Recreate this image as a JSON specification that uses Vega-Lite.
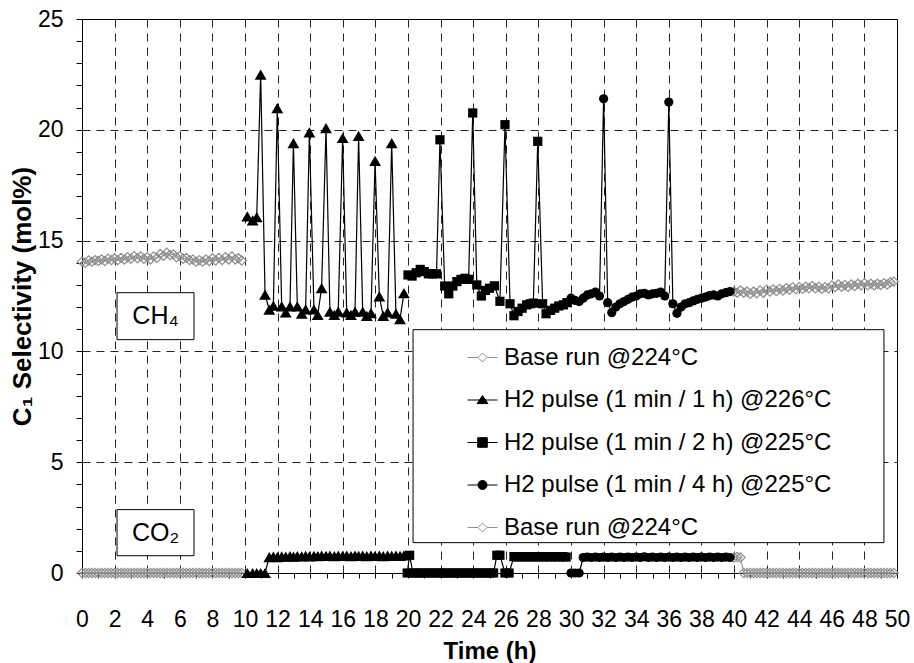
{
 "$schema": "https://vega.github.io/schema/vega-lite/v6.json",
 "width": 815, "height": 554,
 "autosize": {"type": "none"},
 "padding": {"left": 82, "top": 19, "right": 17, "bottom": 90},
 "background": "white",
 "config": {"view": {"stroke": "black", "strokeWidth": 1}, "font": "Liberation Sans"},
 "datasets": {
  "pts": [
{"t":0,"v":14.05,"s":"b1","g":"CH4"},{"t":0.2,"v":14.0,"s":"b1","g":"CH4"},{"t":0.4,"v":14.1,"s":"b1","g":"CH4"},{"t":0.6,"v":14.05,"s":"b1","g":"CH4"},{"t":0.8,"v":14.12,"s":"b1","g":"CH4"},{"t":1,"v":14.08,"s":"b1","g":"CH4"},{"t":1.2,"v":14.15,"s":"b1","g":"CH4"},{"t":1.4,"v":14.08,"s":"b1","g":"CH4"},{"t":1.6,"v":14.18,"s":"b1","g":"CH4"},{"t":1.8,"v":14.12,"s":"b1","g":"CH4"},
{"t":2,"v":14.2,"s":"b1","g":"CH4"},{"t":2.2,"v":14.12,"s":"b1","g":"CH4"},{"t":2.4,"v":14.22,"s":"b1","g":"CH4"},{"t":2.6,"v":14.15,"s":"b1","g":"CH4"},{"t":2.8,"v":14.25,"s":"b1","g":"CH4"},{"t":3,"v":14.18,"s":"b1","g":"CH4"},{"t":3.2,"v":14.3,"s":"b1","g":"CH4"},{"t":3.4,"v":14.2,"s":"b1","g":"CH4"},{"t":3.6,"v":14.28,"s":"b1","g":"CH4"},{"t":3.8,"v":14.18,"s":"b1","g":"CH4"},
{"t":4,"v":14.25,"s":"b1","g":"CH4"},{"t":4.2,"v":14.15,"s":"b1","g":"CH4"},{"t":4.4,"v":14.28,"s":"b1","g":"CH4"},{"t":4.6,"v":14.22,"s":"b1","g":"CH4"},{"t":4.8,"v":14.4,"s":"b1","g":"CH4"},{"t":5,"v":14.32,"s":"b1","g":"CH4"},{"t":5.2,"v":14.45,"s":"b1","g":"CH4"},{"t":5.4,"v":14.35,"s":"b1","g":"CH4"},{"t":5.6,"v":14.38,"s":"b1","g":"CH4"},{"t":5.8,"v":14.25,"s":"b1","g":"CH4"},
{"t":6,"v":14.3,"s":"b1","g":"CH4"},{"t":6.2,"v":14.18,"s":"b1","g":"CH4"},{"t":6.4,"v":14.22,"s":"b1","g":"CH4"},{"t":6.6,"v":14.12,"s":"b1","g":"CH4"},{"t":6.8,"v":14.15,"s":"b1","g":"CH4"},{"t":7,"v":14.05,"s":"b1","g":"CH4"},{"t":7.2,"v":14.12,"s":"b1","g":"CH4"},{"t":7.4,"v":14.05,"s":"b1","g":"CH4"},{"t":7.6,"v":14.15,"s":"b1","g":"CH4"},{"t":7.8,"v":14.08,"s":"b1","g":"CH4"},
{"t":8,"v":14.2,"s":"b1","g":"CH4"},{"t":8.2,"v":14.1,"s":"b1","g":"CH4"},{"t":8.4,"v":14.22,"s":"b1","g":"CH4"},{"t":8.6,"v":14.12,"s":"b1","g":"CH4"},{"t":8.8,"v":14.25,"s":"b1","g":"CH4"},{"t":9,"v":14.15,"s":"b1","g":"CH4"},{"t":9.2,"v":14.28,"s":"b1","g":"CH4"},{"t":9.4,"v":14.15,"s":"b1","g":"CH4"},{"t":9.6,"v":14.2,"s":"b1","g":"CH4"},{"t":9.8,"v":14.1,"s":"b1","g":"CH4"},
{"t":0,"v":0,"s":"b1","g":"CO2"},{"t":0.2,"v":0,"s":"b1","g":"CO2"},{"t":0.4,"v":0,"s":"b1","g":"CO2"},{"t":0.6,"v":0,"s":"b1","g":"CO2"},{"t":0.8,"v":0,"s":"b1","g":"CO2"},{"t":1,"v":0,"s":"b1","g":"CO2"},{"t":1.2,"v":0,"s":"b1","g":"CO2"},{"t":1.4,"v":0,"s":"b1","g":"CO2"},{"t":1.6,"v":0,"s":"b1","g":"CO2"},{"t":1.8,"v":0,"s":"b1","g":"CO2"},
{"t":2,"v":0,"s":"b1","g":"CO2"},{"t":2.2,"v":0,"s":"b1","g":"CO2"},{"t":2.4,"v":0,"s":"b1","g":"CO2"},{"t":2.6,"v":0,"s":"b1","g":"CO2"},{"t":2.8,"v":0,"s":"b1","g":"CO2"},{"t":3,"v":0,"s":"b1","g":"CO2"},{"t":3.2,"v":0,"s":"b1","g":"CO2"},{"t":3.4,"v":0,"s":"b1","g":"CO2"},{"t":3.6,"v":0,"s":"b1","g":"CO2"},{"t":3.8,"v":0,"s":"b1","g":"CO2"},
{"t":4,"v":0,"s":"b1","g":"CO2"},{"t":4.2,"v":0,"s":"b1","g":"CO2"},{"t":4.4,"v":0,"s":"b1","g":"CO2"},{"t":4.6,"v":0,"s":"b1","g":"CO2"},{"t":4.8,"v":0,"s":"b1","g":"CO2"},{"t":5,"v":0,"s":"b1","g":"CO2"},{"t":5.2,"v":0,"s":"b1","g":"CO2"},{"t":5.4,"v":0,"s":"b1","g":"CO2"},{"t":5.6,"v":0,"s":"b1","g":"CO2"},{"t":5.8,"v":0,"s":"b1","g":"CO2"},
{"t":6,"v":0,"s":"b1","g":"CO2"},{"t":6.2,"v":0,"s":"b1","g":"CO2"},{"t":6.4,"v":0,"s":"b1","g":"CO2"},{"t":6.6,"v":0,"s":"b1","g":"CO2"},{"t":6.8,"v":0,"s":"b1","g":"CO2"},{"t":7,"v":0,"s":"b1","g":"CO2"},{"t":7.2,"v":0,"s":"b1","g":"CO2"},{"t":7.4,"v":0,"s":"b1","g":"CO2"},{"t":7.6,"v":0,"s":"b1","g":"CO2"},{"t":7.8,"v":0,"s":"b1","g":"CO2"},
{"t":8,"v":0,"s":"b1","g":"CO2"},{"t":8.2,"v":0,"s":"b1","g":"CO2"},{"t":8.4,"v":0,"s":"b1","g":"CO2"},{"t":8.6,"v":0,"s":"b1","g":"CO2"},{"t":8.8,"v":0,"s":"b1","g":"CO2"},{"t":9,"v":0,"s":"b1","g":"CO2"},{"t":9.2,"v":0,"s":"b1","g":"CO2"},{"t":9.4,"v":0,"s":"b1","g":"CO2"},{"t":9.6,"v":0,"s":"b1","g":"CO2"},{"t":9.8,"v":0,"s":"b1","g":"CO2"},
{"t":10.14,"v":16.09,"s":"p1","g":"CH4"},{"t":10.47,"v":15.91,"s":"p1","g":"CH4"},{"t":10.72,"v":16.06,"s":"p1","g":"CH4"},{"t":10.96,"v":22.49,"s":"p1","g":"CH4"},{"t":11.23,"v":12.56,"s":"p1","g":"CH4"},{"t":11.49,"v":11.88,"s":"p1","g":"CH4"},{"t":11.74,"v":12.06,"s":"p1","g":"CH4"},{"t":11.98,"v":20.98,"s":"p1","g":"CH4"},
{"t":12.25,"v":12.03,"s":"p1","g":"CH4"},{"t":12.5,"v":11.76,"s":"p1","g":"CH4"},{"t":12.76,"v":12.03,"s":"p1","g":"CH4"},{"t":12.97,"v":19.4,"s":"p1","g":"CH4"},{"t":13.21,"v":12.03,"s":"p1","g":"CH4"},{"t":13.48,"v":11.7,"s":"p1","g":"CH4"},{"t":13.72,"v":11.9,"s":"p1","g":"CH4"},{"t":13.95,"v":19.88,"s":"p1","g":"CH4"},
{"t":14.23,"v":11.9,"s":"p1","g":"CH4"},{"t":14.46,"v":11.65,"s":"p1","g":"CH4"},{"t":14.7,"v":12.86,"s":"p1","g":"CH4"},{"t":14.97,"v":20.08,"s":"p1","g":"CH4"},{"t":15.21,"v":11.8,"s":"p1","g":"CH4"},{"t":15.48,"v":11.65,"s":"p1","g":"CH4"},{"t":15.72,"v":11.8,"s":"p1","g":"CH4"},{"t":15.99,"v":19.63,"s":"p1","g":"CH4"},
{"t":16.24,"v":11.76,"s":"p1","g":"CH4"},{"t":16.5,"v":11.65,"s":"p1","g":"CH4"},{"t":16.75,"v":11.8,"s":"p1","g":"CH4"},{"t":16.97,"v":19.73,"s":"p1","g":"CH4"},{"t":17.22,"v":11.8,"s":"p1","g":"CH4"},{"t":17.47,"v":11.6,"s":"p1","g":"CH4"},{"t":17.73,"v":11.73,"s":"p1","g":"CH4"},{"t":17.98,"v":18.6,"s":"p1","g":"CH4"},
{"t":18.24,"v":12.48,"s":"p1","g":"CH4"},{"t":18.48,"v":11.6,"s":"p1","g":"CH4"},{"t":18.75,"v":11.76,"s":"p1","g":"CH4"},{"t":19.0,"v":19.4,"s":"p1","g":"CH4"},{"t":19.26,"v":11.7,"s":"p1","g":"CH4"},{"t":19.51,"v":11.46,"s":"p1","g":"CH4"},{"t":19.75,"v":12.63,"s":"p1","g":"CH4"},
{"t":10.14,"v":0,"s":"p1","g":"CO2"},{"t":10.47,"v":0,"s":"p1","g":"CO2"},{"t":10.72,"v":0,"s":"p1","g":"CO2"},{"t":10.96,"v":0,"s":"p1","g":"CO2"},{"t":11.23,"v":0,"s":"p1","g":"CO2"},{"t":11.49,"v":0.72,"s":"p1","g":"CO2"},{"t":11.74,"v":0.74,"s":"p1","g":"CO2"},{"t":11.98,"v":0.72,"s":"p1","g":"CO2"},
{"t":12.25,"v":0.75,"s":"p1","g":"CO2"},{"t":12.5,"v":0.74,"s":"p1","g":"CO2"},{"t":12.76,"v":0.76,"s":"p1","g":"CO2"},{"t":12.97,"v":0.74,"s":"p1","g":"CO2"},{"t":13.21,"v":0.76,"s":"p1","g":"CO2"},{"t":13.48,"v":0.75,"s":"p1","g":"CO2"},{"t":13.72,"v":0.77,"s":"p1","g":"CO2"},{"t":13.95,"v":0.75,"s":"p1","g":"CO2"},
{"t":14.23,"v":0.77,"s":"p1","g":"CO2"},{"t":14.46,"v":0.76,"s":"p1","g":"CO2"},{"t":14.7,"v":0.78,"s":"p1","g":"CO2"},{"t":14.97,"v":0.77,"s":"p1","g":"CO2"},{"t":15.21,"v":0.78,"s":"p1","g":"CO2"},{"t":15.48,"v":0.76,"s":"p1","g":"CO2"},{"t":15.72,"v":0.78,"s":"p1","g":"CO2"},{"t":15.99,"v":0.77,"s":"p1","g":"CO2"},
{"t":16.24,"v":0.78,"s":"p1","g":"CO2"},{"t":16.5,"v":0.76,"s":"p1","g":"CO2"},{"t":16.75,"v":0.78,"s":"p1","g":"CO2"},{"t":16.97,"v":0.77,"s":"p1","g":"CO2"},{"t":17.22,"v":0.78,"s":"p1","g":"CO2"},{"t":17.47,"v":0.76,"s":"p1","g":"CO2"},{"t":17.73,"v":0.78,"s":"p1","g":"CO2"},{"t":17.98,"v":0.77,"s":"p1","g":"CO2"},
{"t":18.24,"v":0.78,"s":"p1","g":"CO2"},{"t":18.48,"v":0.76,"s":"p1","g":"CO2"},{"t":18.75,"v":0.78,"s":"p1","g":"CO2"},{"t":19.0,"v":0.77,"s":"p1","g":"CO2"},{"t":19.26,"v":0.78,"s":"p1","g":"CO2"},{"t":19.51,"v":0.77,"s":"p1","g":"CO2"},{"t":19.75,"v":0.79,"s":"p1","g":"CO2"},
{"t":20.0,"v":13.45,"s":"p2","g":"CH4"},{"t":20.25,"v":13.4,"s":"p2","g":"CH4"},{"t":20.5,"v":13.55,"s":"p2","g":"CH4"},{"t":20.75,"v":13.7,"s":"p2","g":"CH4"},{"t":21.0,"v":13.6,"s":"p2","g":"CH4"},{"t":21.25,"v":13.5,"s":"p2","g":"CH4"},{"t":21.5,"v":13.5,"s":"p2","g":"CH4"},{"t":21.75,"v":13.5,"s":"p2","g":"CH4"},
{"t":21.96,"v":19.55,"s":"p2","g":"CH4"},{"t":22.25,"v":12.95,"s":"p2","g":"CH4"},{"t":22.5,"v":12.6,"s":"p2","g":"CH4"},{"t":22.75,"v":12.95,"s":"p2","g":"CH4"},{"t":23.0,"v":13.15,"s":"p2","g":"CH4"},{"t":23.25,"v":13.25,"s":"p2","g":"CH4"},{"t":23.5,"v":13.3,"s":"p2","g":"CH4"},{"t":23.72,"v":13.25,"s":"p2","g":"CH4"},
{"t":23.97,"v":20.76,"s":"p2","g":"CH4"},{"t":24.22,"v":13.0,"s":"p2","g":"CH4"},{"t":24.5,"v":12.5,"s":"p2","g":"CH4"},{"t":24.75,"v":12.75,"s":"p2","g":"CH4"},{"t":25.0,"v":12.85,"s":"p2","g":"CH4"},{"t":25.3,"v":12.96,"s":"p2","g":"CH4"},{"t":25.64,"v":12.26,"s":"p2","g":"CH4"},{"t":25.95,"v":20.23,"s":"p2","g":"CH4"},
{"t":26.26,"v":12.15,"s":"p2","g":"CH4"},{"t":26.5,"v":11.61,"s":"p2","g":"CH4"},{"t":26.75,"v":11.8,"s":"p2","g":"CH4"},{"t":27.0,"v":11.95,"s":"p2","g":"CH4"},{"t":27.28,"v":12.1,"s":"p2","g":"CH4"},{"t":27.5,"v":12.15,"s":"p2","g":"CH4"},{"t":27.69,"v":12.18,"s":"p2","g":"CH4"},{"t":27.96,"v":19.48,"s":"p2","g":"CH4"},
{"t":28.26,"v":12.15,"s":"p2","g":"CH4"},{"t":28.47,"v":11.7,"s":"p2","g":"CH4"},{"t":28.75,"v":11.85,"s":"p2","g":"CH4"},{"t":29.0,"v":11.95,"s":"p2","g":"CH4"},{"t":29.25,"v":12.05,"s":"p2","g":"CH4"},{"t":29.53,"v":12.1,"s":"p2","g":"CH4"},{"t":29.75,"v":12.2,"s":"p2","g":"CH4"},
{"t":19.95,"v":0,"s":"p2","g":"CO2"},{"t":20.1,"v":0.8,"s":"p2","g":"CO2"},{"t":20.3,"v":0,"s":"p2","g":"CO2"},{"t":20.5,"v":0,"s":"p2","g":"CO2"},{"t":20.75,"v":0,"s":"p2","g":"CO2"},{"t":21.0,"v":0,"s":"p2","g":"CO2"},{"t":21.25,"v":0,"s":"p2","g":"CO2"},{"t":21.5,"v":0,"s":"p2","g":"CO2"},{"t":21.75,"v":0,"s":"p2","g":"CO2"},
{"t":22.0,"v":0,"s":"p2","g":"CO2"},{"t":22.25,"v":0,"s":"p2","g":"CO2"},{"t":22.5,"v":0,"s":"p2","g":"CO2"},{"t":22.75,"v":0,"s":"p2","g":"CO2"},{"t":23.0,"v":0,"s":"p2","g":"CO2"},{"t":23.25,"v":0,"s":"p2","g":"CO2"},{"t":23.5,"v":0,"s":"p2","g":"CO2"},{"t":23.75,"v":0,"s":"p2","g":"CO2"},
{"t":24.0,"v":0,"s":"p2","g":"CO2"},{"t":24.25,"v":0,"s":"p2","g":"CO2"},{"t":24.5,"v":0,"s":"p2","g":"CO2"},{"t":24.75,"v":0,"s":"p2","g":"CO2"},{"t":25.0,"v":0,"s":"p2","g":"CO2"},{"t":25.25,"v":0,"s":"p2","g":"CO2"},{"t":25.45,"v":0.8,"s":"p2","g":"CO2"},{"t":25.64,"v":0.8,"s":"p2","g":"CO2"},{"t":25.95,"v":0,"s":"p2","g":"CO2"},{"t":26.2,"v":0,"s":"p2","g":"CO2"},
{"t":26.5,"v":0.74,"s":"p2","g":"CO2"},{"t":26.75,"v":0.72,"s":"p2","g":"CO2"},{"t":27.0,"v":0.74,"s":"p2","g":"CO2"},{"t":27.25,"v":0.72,"s":"p2","g":"CO2"},{"t":27.5,"v":0.74,"s":"p2","g":"CO2"},{"t":27.75,"v":0.72,"s":"p2","g":"CO2"},{"t":28.0,"v":0.74,"s":"p2","g":"CO2"},{"t":28.25,"v":0.72,"s":"p2","g":"CO2"},
{"t":28.5,"v":0.74,"s":"p2","g":"CO2"},{"t":28.75,"v":0.72,"s":"p2","g":"CO2"},{"t":29.0,"v":0.74,"s":"p2","g":"CO2"},{"t":29.25,"v":0.72,"s":"p2","g":"CO2"},{"t":29.5,"v":0.74,"s":"p2","g":"CO2"},{"t":29.7,"v":0.72,"s":"p2","g":"CO2"},
{"t":30.0,"v":12.4,"s":"p4","g":"CH4"},{"t":30.25,"v":12.3,"s":"p4","g":"CH4"},{"t":30.5,"v":12.25,"s":"p4","g":"CH4"},{"t":30.75,"v":12.4,"s":"p4","g":"CH4"},{"t":31.0,"v":12.55,"s":"p4","g":"CH4"},{"t":31.25,"v":12.6,"s":"p4","g":"CH4"},{"t":31.5,"v":12.68,"s":"p4","g":"CH4"},{"t":31.75,"v":12.5,"s":"p4","g":"CH4"},
{"t":32.0,"v":21.4,"s":"p4","g":"CH4"},{"t":32.25,"v":12.2,"s":"p4","g":"CH4"},{"t":32.5,"v":11.75,"s":"p4","g":"CH4"},{"t":32.75,"v":12.0,"s":"p4","g":"CH4"},{"t":33.0,"v":12.15,"s":"p4","g":"CH4"},{"t":33.25,"v":12.25,"s":"p4","g":"CH4"},{"t":33.5,"v":12.35,"s":"p4","g":"CH4"},{"t":33.75,"v":12.45,"s":"p4","g":"CH4"},
{"t":34.0,"v":12.5,"s":"p4","g":"CH4"},{"t":34.25,"v":12.6,"s":"p4","g":"CH4"},{"t":34.5,"v":12.62,"s":"p4","g":"CH4"},{"t":34.75,"v":12.55,"s":"p4","g":"CH4"},{"t":35.0,"v":12.6,"s":"p4","g":"CH4"},{"t":35.25,"v":12.62,"s":"p4","g":"CH4"},{"t":35.5,"v":12.68,"s":"p4","g":"CH4"},{"t":35.75,"v":12.5,"s":"p4","g":"CH4"},
{"t":36.0,"v":21.25,"s":"p4","g":"CH4"},{"t":36.25,"v":12.15,"s":"p4","g":"CH4"},{"t":36.5,"v":11.72,"s":"p4","g":"CH4"},{"t":36.75,"v":12.0,"s":"p4","g":"CH4"},{"t":37.0,"v":12.15,"s":"p4","g":"CH4"},{"t":37.25,"v":12.2,"s":"p4","g":"CH4"},{"t":37.5,"v":12.28,"s":"p4","g":"CH4"},{"t":37.75,"v":12.35,"s":"p4","g":"CH4"},
{"t":38.0,"v":12.4,"s":"p4","g":"CH4"},{"t":38.25,"v":12.45,"s":"p4","g":"CH4"},{"t":38.5,"v":12.52,"s":"p4","g":"CH4"},{"t":38.75,"v":12.55,"s":"p4","g":"CH4"},{"t":39.0,"v":12.5,"s":"p4","g":"CH4"},{"t":39.25,"v":12.6,"s":"p4","g":"CH4"},{"t":39.5,"v":12.65,"s":"p4","g":"CH4"},{"t":39.75,"v":12.7,"s":"p4","g":"CH4"},
{"t":30.0,"v":0,"s":"p4","g":"CO2"},{"t":30.25,"v":0,"s":"p4","g":"CO2"},{"t":30.5,"v":0,"s":"p4","g":"CO2"},{"t":30.75,"v":0.7,"s":"p4","g":"CO2"},{"t":31.0,"v":0.72,"s":"p4","g":"CO2"},{"t":31.25,"v":0.7,"s":"p4","g":"CO2"},{"t":31.5,"v":0.72,"s":"p4","g":"CO2"},{"t":31.75,"v":0.7,"s":"p4","g":"CO2"},
{"t":32.0,"v":0.72,"s":"p4","g":"CO2"},{"t":32.25,"v":0.7,"s":"p4","g":"CO2"},{"t":32.5,"v":0.72,"s":"p4","g":"CO2"},{"t":32.75,"v":0.7,"s":"p4","g":"CO2"},{"t":33.0,"v":0.72,"s":"p4","g":"CO2"},{"t":33.25,"v":0.7,"s":"p4","g":"CO2"},{"t":33.5,"v":0.72,"s":"p4","g":"CO2"},{"t":33.75,"v":0.7,"s":"p4","g":"CO2"},
{"t":34.0,"v":0.72,"s":"p4","g":"CO2"},{"t":34.25,"v":0.7,"s":"p4","g":"CO2"},{"t":34.5,"v":0.73,"s":"p4","g":"CO2"},{"t":34.75,"v":0.7,"s":"p4","g":"CO2"},{"t":35.0,"v":0.72,"s":"p4","g":"CO2"},{"t":35.25,"v":0.7,"s":"p4","g":"CO2"},{"t":35.5,"v":0.72,"s":"p4","g":"CO2"},{"t":35.75,"v":0.7,"s":"p4","g":"CO2"},
{"t":36.0,"v":0.72,"s":"p4","g":"CO2"},{"t":36.25,"v":0.7,"s":"p4","g":"CO2"},{"t":36.5,"v":0.72,"s":"p4","g":"CO2"},{"t":36.75,"v":0.7,"s":"p4","g":"CO2"},{"t":37.0,"v":0.72,"s":"p4","g":"CO2"},{"t":37.25,"v":0.7,"s":"p4","g":"CO2"},{"t":37.5,"v":0.72,"s":"p4","g":"CO2"},{"t":37.75,"v":0.7,"s":"p4","g":"CO2"},
{"t":38.0,"v":0.72,"s":"p4","g":"CO2"},{"t":38.25,"v":0.7,"s":"p4","g":"CO2"},{"t":38.5,"v":0.72,"s":"p4","g":"CO2"},{"t":38.75,"v":0.7,"s":"p4","g":"CO2"},{"t":39.0,"v":0.72,"s":"p4","g":"CO2"},{"t":39.25,"v":0.7,"s":"p4","g":"CO2"},{"t":39.5,"v":0.72,"s":"p4","g":"CO2"},{"t":39.75,"v":0.7,"s":"p4","g":"CO2"},
{"t":40,"v":12.7,"s":"b2","g":"CH4"},{"t":40.2,"v":12.65,"s":"b2","g":"CH4"},{"t":40.4,"v":12.75,"s":"b2","g":"CH4"},{"t":40.6,"v":12.65,"s":"b2","g":"CH4"},{"t":40.8,"v":12.7,"s":"b2","g":"CH4"},{"t":41,"v":12.6,"s":"b2","g":"CH4"},{"t":41.2,"v":12.7,"s":"b2","g":"CH4"},{"t":41.4,"v":12.62,"s":"b2","g":"CH4"},{"t":41.6,"v":12.75,"s":"b2","g":"CH4"},{"t":41.8,"v":12.65,"s":"b2","g":"CH4"},
{"t":42,"v":12.78,"s":"b2","g":"CH4"},{"t":42.2,"v":12.7,"s":"b2","g":"CH4"},{"t":42.4,"v":12.8,"s":"b2","g":"CH4"},{"t":42.6,"v":12.72,"s":"b2","g":"CH4"},{"t":42.8,"v":12.82,"s":"b2","g":"CH4"},{"t":43,"v":12.75,"s":"b2","g":"CH4"},{"t":43.2,"v":12.85,"s":"b2","g":"CH4"},{"t":43.4,"v":12.78,"s":"b2","g":"CH4"},{"t":43.6,"v":12.9,"s":"b2","g":"CH4"},{"t":43.8,"v":12.8,"s":"b2","g":"CH4"},
{"t":44,"v":12.9,"s":"b2","g":"CH4"},{"t":44.2,"v":12.82,"s":"b2","g":"CH4"},{"t":44.4,"v":12.92,"s":"b2","g":"CH4"},{"t":44.6,"v":12.85,"s":"b2","g":"CH4"},{"t":44.8,"v":12.95,"s":"b2","g":"CH4"},{"t":45,"v":12.85,"s":"b2","g":"CH4"},{"t":45.2,"v":12.92,"s":"b2","g":"CH4"},{"t":45.4,"v":12.82,"s":"b2","g":"CH4"},{"t":45.6,"v":12.9,"s":"b2","g":"CH4"},{"t":45.8,"v":12.85,"s":"b2","g":"CH4"},
{"t":46,"v":12.98,"s":"b2","g":"CH4"},{"t":46.2,"v":12.9,"s":"b2","g":"CH4"},{"t":46.4,"v":13.02,"s":"b2","g":"CH4"},{"t":46.6,"v":12.92,"s":"b2","g":"CH4"},{"t":46.8,"v":13.0,"s":"b2","g":"CH4"},{"t":47,"v":12.92,"s":"b2","g":"CH4"},{"t":47.2,"v":13.02,"s":"b2","g":"CH4"},{"t":47.4,"v":12.95,"s":"b2","g":"CH4"},{"t":47.6,"v":13.05,"s":"b2","g":"CH4"},{"t":47.8,"v":12.98,"s":"b2","g":"CH4"},
{"t":48,"v":13.08,"s":"b2","g":"CH4"},{"t":48.2,"v":12.98,"s":"b2","g":"CH4"},{"t":48.4,"v":13.05,"s":"b2","g":"CH4"},{"t":48.6,"v":12.98,"s":"b2","g":"CH4"},{"t":48.8,"v":13.05,"s":"b2","g":"CH4"},{"t":49,"v":13.0,"s":"b2","g":"CH4"},{"t":49.2,"v":13.08,"s":"b2","g":"CH4"},{"t":49.4,"v":13.02,"s":"b2","g":"CH4"},{"t":49.6,"v":13.12,"s":"b2","g":"CH4"},{"t":49.8,"v":13.15,"s":"b2","g":"CH4"},
{"t":40,"v":0.7,"s":"b2","g":"CO2"},{"t":40.2,"v":0.72,"s":"b2","g":"CO2"},{"t":40.4,"v":0.7,"s":"b2","g":"CO2"},{"t":40.6,"v":0,"s":"b2","g":"CO2"},{"t":40.8,"v":0,"s":"b2","g":"CO2"},{"t":41,"v":0,"s":"b2","g":"CO2"},{"t":41.2,"v":0,"s":"b2","g":"CO2"},{"t":41.4,"v":0,"s":"b2","g":"CO2"},{"t":41.6,"v":0,"s":"b2","g":"CO2"},{"t":41.8,"v":0,"s":"b2","g":"CO2"},
{"t":42,"v":0,"s":"b2","g":"CO2"},{"t":42.2,"v":0,"s":"b2","g":"CO2"},{"t":42.4,"v":0,"s":"b2","g":"CO2"},{"t":42.6,"v":0,"s":"b2","g":"CO2"},{"t":42.8,"v":0,"s":"b2","g":"CO2"},{"t":43,"v":0,"s":"b2","g":"CO2"},{"t":43.2,"v":0,"s":"b2","g":"CO2"},{"t":43.4,"v":0,"s":"b2","g":"CO2"},{"t":43.6,"v":0,"s":"b2","g":"CO2"},{"t":43.8,"v":0,"s":"b2","g":"CO2"},
{"t":44,"v":0,"s":"b2","g":"CO2"},{"t":44.2,"v":0,"s":"b2","g":"CO2"},{"t":44.4,"v":0,"s":"b2","g":"CO2"},{"t":44.6,"v":0,"s":"b2","g":"CO2"},{"t":44.8,"v":0,"s":"b2","g":"CO2"},{"t":45,"v":0,"s":"b2","g":"CO2"},{"t":45.2,"v":0,"s":"b2","g":"CO2"},{"t":45.4,"v":0,"s":"b2","g":"CO2"},{"t":45.6,"v":0,"s":"b2","g":"CO2"},{"t":45.8,"v":0,"s":"b2","g":"CO2"},
{"t":46,"v":0,"s":"b2","g":"CO2"},{"t":46.2,"v":0,"s":"b2","g":"CO2"},{"t":46.4,"v":0,"s":"b2","g":"CO2"},{"t":46.6,"v":0,"s":"b2","g":"CO2"},{"t":46.8,"v":0,"s":"b2","g":"CO2"},{"t":47,"v":0,"s":"b2","g":"CO2"},{"t":47.2,"v":0,"s":"b2","g":"CO2"},{"t":47.4,"v":0,"s":"b2","g":"CO2"},{"t":47.6,"v":0,"s":"b2","g":"CO2"},{"t":47.8,"v":0,"s":"b2","g":"CO2"},
{"t":48,"v":0,"s":"b2","g":"CO2"},{"t":48.2,"v":0,"s":"b2","g":"CO2"},{"t":48.4,"v":0,"s":"b2","g":"CO2"},{"t":48.6,"v":0,"s":"b2","g":"CO2"},{"t":48.8,"v":0,"s":"b2","g":"CO2"},{"t":49,"v":0,"s":"b2","g":"CO2"},{"t":49.2,"v":0,"s":"b2","g":"CO2"},{"t":49.4,"v":0,"s":"b2","g":"CO2"},{"t":49.6,"v":0,"s":"b2","g":"CO2"},{"t":49.8,"v":0,"s":"b2","g":"CO2"}
  ],
  "boxes": [
   {"t": 2.15, "t2": 6.87, "v": 10.53, "v2": 12.65},
   {"t": 2.15, "t2": 6.87, "v": 0.78, "v2": 2.86},
   {"t": 20.31, "t2": 49.2, "v": 1.37, "v2": 10.98}
  ],
  "labels": [
   {"t": 4.51, "v": 11.59, "label": "CH₄"},
   {"t": 4.51, "v": 1.82, "label": "CO₂"}
  ]
 },
 "encoding": {
  "x": {"field": "t", "type": "quantitative",
   "scale": {"domain": [0, 50], "nice": false, "zero": false},
   "axis": {
    "title": "Time (h)",
    "values": [0,1,2,3,4,5,6,7,8,9,10,11,12,13,14,15,16,17,18,19,20,21,22,23,24,25,26,27,28,29,30,31,32,33,34,35,36,37,38,39,40,41,42,43,44,45,46,47,48,49,50],
    "labelExpr": "datum.value % 2 == 0 ? datum.label : ''",
    "labelFlush": false, "labelOverlap": false, "labelBound": false,
    "labelFont": "Liberation Sans", "labelFontSize": 23, "labelColor": "black", "labelPadding": 30,
    "tickSize": 5, "tickColor": "black", "tickWidth": 1, "domainColor": "black", "domainWidth": 1,
    "grid": true, "gridColor": "#222", "gridDash": [8, 6], "gridWidth": 1,
    "gridOpacity": {"condition": {"test": "datum.value % 2 == 0 && datum.value > 0 && datum.value < 50", "value": 1}, "value": 0},
    "titleFont": "Liberation Sans", "titleFontSize": 24, "titleFontWeight": "bold", "titleColor": "black", "titlePadding": 8
   }},
  "y": {"field": "v", "type": "quantitative",
   "scale": {"domain": [0, 25], "nice": false, "zero": false},
   "axis": {
    "title": "C₁ Selectivity (mol%)",
    "values": [0,1,2,3,4,5,6,7,8,9,10,11,12,13,14,15,16,17,18,19,20,21,22,23,24,25],
    "labelExpr": "datum.value % 5 == 0 ? datum.label : ''",
    "labelFlush": false, "labelOverlap": false, "labelBound": false,
    "labelFont": "Liberation Sans", "labelFontSize": 23, "labelColor": "black", "labelPadding": 13,
    "tickSize": 6, "tickColor": "black", "tickWidth": 1, "domainColor": "black", "domainWidth": 1,
    "grid": true, "gridColor": "#222", "gridDash": [8, 6], "gridWidth": 1,
    "gridOpacity": {"condition": {"test": "datum.value % 5 == 0 && datum.value > 0 && datum.value < 25", "value": 1}, "value": 0},
    "titleFont": "Liberation Sans", "titleFontSize": 26, "titleFontWeight": "bold", "titleColor": "black", "titlePadding": 2
   }}
 },
 "layer": [
  {"data": {"name": "pts"},
   "transform": [{"filter": "datum.s == 'b1' || datum.s == 'b2'"}],
   "mark": {"type": "line", "color": "#8f8f8f", "strokeWidth": 1},
   "encoding": {"detail": [{"field": "s"}, {"field": "g"}]}},
  {"data": {"name": "pts"},
   "transform": [{"filter": "datum.s != 'b1' && datum.s != 'b2'"}],
   "mark": {"type": "line", "color": "black", "strokeWidth": 1.2},
   "encoding": {"detail": [{"field": "s"}, {"field": "g"}]}},
  {"data": {"name": "pts"},
   "transform": [{"filter": "datum.s == 'b1' || datum.s == 'b2'"}],
   "mark": {"type": "point", "shape": "diamond", "size": 85, "filled": false, "stroke": "#8f8f8f", "strokeWidth": 1.2, "opacity": 1}},
  {"data": {"name": "pts"},
   "transform": [{"filter": "datum.s == 'p1'"}],
   "mark": {"type": "point", "shape": "triangle-up", "size": 140, "filled": true, "color": "black", "opacity": 1}},
  {"data": {"name": "pts"},
   "transform": [{"filter": "datum.s == 'p2'"}],
   "mark": {"type": "point", "shape": "square", "size": 85, "filled": true, "color": "black", "opacity": 1}},
  {"data": {"name": "pts"},
   "transform": [{"filter": "datum.s == 'p4'"}],
   "mark": {"type": "point", "shape": "circle", "size": 85, "filled": true, "color": "black", "opacity": 1}},
  {"data": {"name": "boxes"},
   "mark": {"type": "rect", "fill": "white", "stroke": "black", "strokeWidth": 1},
   "encoding": {"x2": {"field": "t2"}, "y2": {"field": "v2"}}},
  {"data": {"name": "labels"},
   "mark": {"type": "text", "font": "Liberation Sans", "fontSize": 25, "color": "black", "align": "center", "baseline": "middle"},
   "encoding": {"text": {"field": "label"}}},
  {"data": {"name": "pts"},
   "transform": [{"filter": "datum.t < -100"}],
   "mark": {"type": "point", "size": 900, "filled": true, "opacity": 1, "strokeWidth": 1},
   "encoding": {
    "shape": {"field": "s", "type": "nominal",
     "scale": {"domain": ["b1", "p1", "p2", "p4", "b2"],
      "range": ["M-1,0H-0.3M0.3,0H1M-0.3,0L0,-0.3L0.3,0L0,0.3Z",
                "M-1,0H1M0,-0.3L0.36,0.24L-0.36,0.24Z",
                "M-1,0H1M-0.32,-0.32H0.32V0.32H-0.32Z",
                "M-1,0H1M0.3,0A0.3,0.3,0,1,1,-0.3,0A0.3,0.3,0,1,1,0.3,0Z",
                "M-1,0H-0.3M0.3,0H1M-0.3,0L0,-0.3L0.3,0L0,0.3Z"]},
     "legend": {"orient": "none", "legendX": 385, "legendY": 323, "title": null, "padding": 0,
      "labelFont": "Liberation Sans", "labelFontSize": 24, "labelColor": "black", "labelLimit": 600, "labelOffset": 6,
      "rowPadding": 14.5, "symbolStrokeWidth": 1, "symbolSize": 900,
      "labelExpr": "datum.value == 'p1' ? 'H2 pulse (1 min / 1 h) @226°C' : datum.value == 'p2' ? 'H2 pulse (1 min / 2 h) @225°C' : datum.value == 'p4' ? 'H2 pulse (1 min / 4 h) @225°C' : 'Base run @224°C'"}},
    "fill": {"field": "s", "type": "nominal",
     "scale": {"domain": ["b1", "p1", "p2", "p4", "b2"], "range": ["white", "black", "black", "black", "white"]},
     "legend": {"orient": "none", "legendX": 385, "legendY": 323, "title": null, "padding": 0,
      "labelFont": "Liberation Sans", "labelFontSize": 24, "labelColor": "black", "labelLimit": 600, "labelOffset": 6,
      "rowPadding": 14.5, "symbolStrokeWidth": 1, "symbolSize": 900,
      "labelExpr": "datum.value == 'p1' ? 'H2 pulse (1 min / 1 h) @226°C' : datum.value == 'p2' ? 'H2 pulse (1 min / 2 h) @225°C' : datum.value == 'p4' ? 'H2 pulse (1 min / 4 h) @225°C' : 'Base run @224°C'"}},
    "stroke": {"field": "s", "type": "nominal",
     "scale": {"domain": ["b1", "p1", "p2", "p4", "b2"], "range": ["#8f8f8f", "black", "black", "black", "#8f8f8f"]},
     "legend": {"orient": "none", "legendX": 385, "legendY": 323, "title": null, "padding": 0,
      "labelFont": "Liberation Sans", "labelFontSize": 24, "labelColor": "black", "labelLimit": 600, "labelOffset": 6,
      "rowPadding": 14.5, "symbolStrokeWidth": 1, "symbolSize": 900,
      "labelExpr": "datum.value == 'p1' ? 'H2 pulse (1 min / 1 h) @226°C' : datum.value == 'p2' ? 'H2 pulse (1 min / 2 h) @225°C' : datum.value == 'p4' ? 'H2 pulse (1 min / 4 h) @225°C' : 'Base run @224°C'"}}
   }}
 ]
}
